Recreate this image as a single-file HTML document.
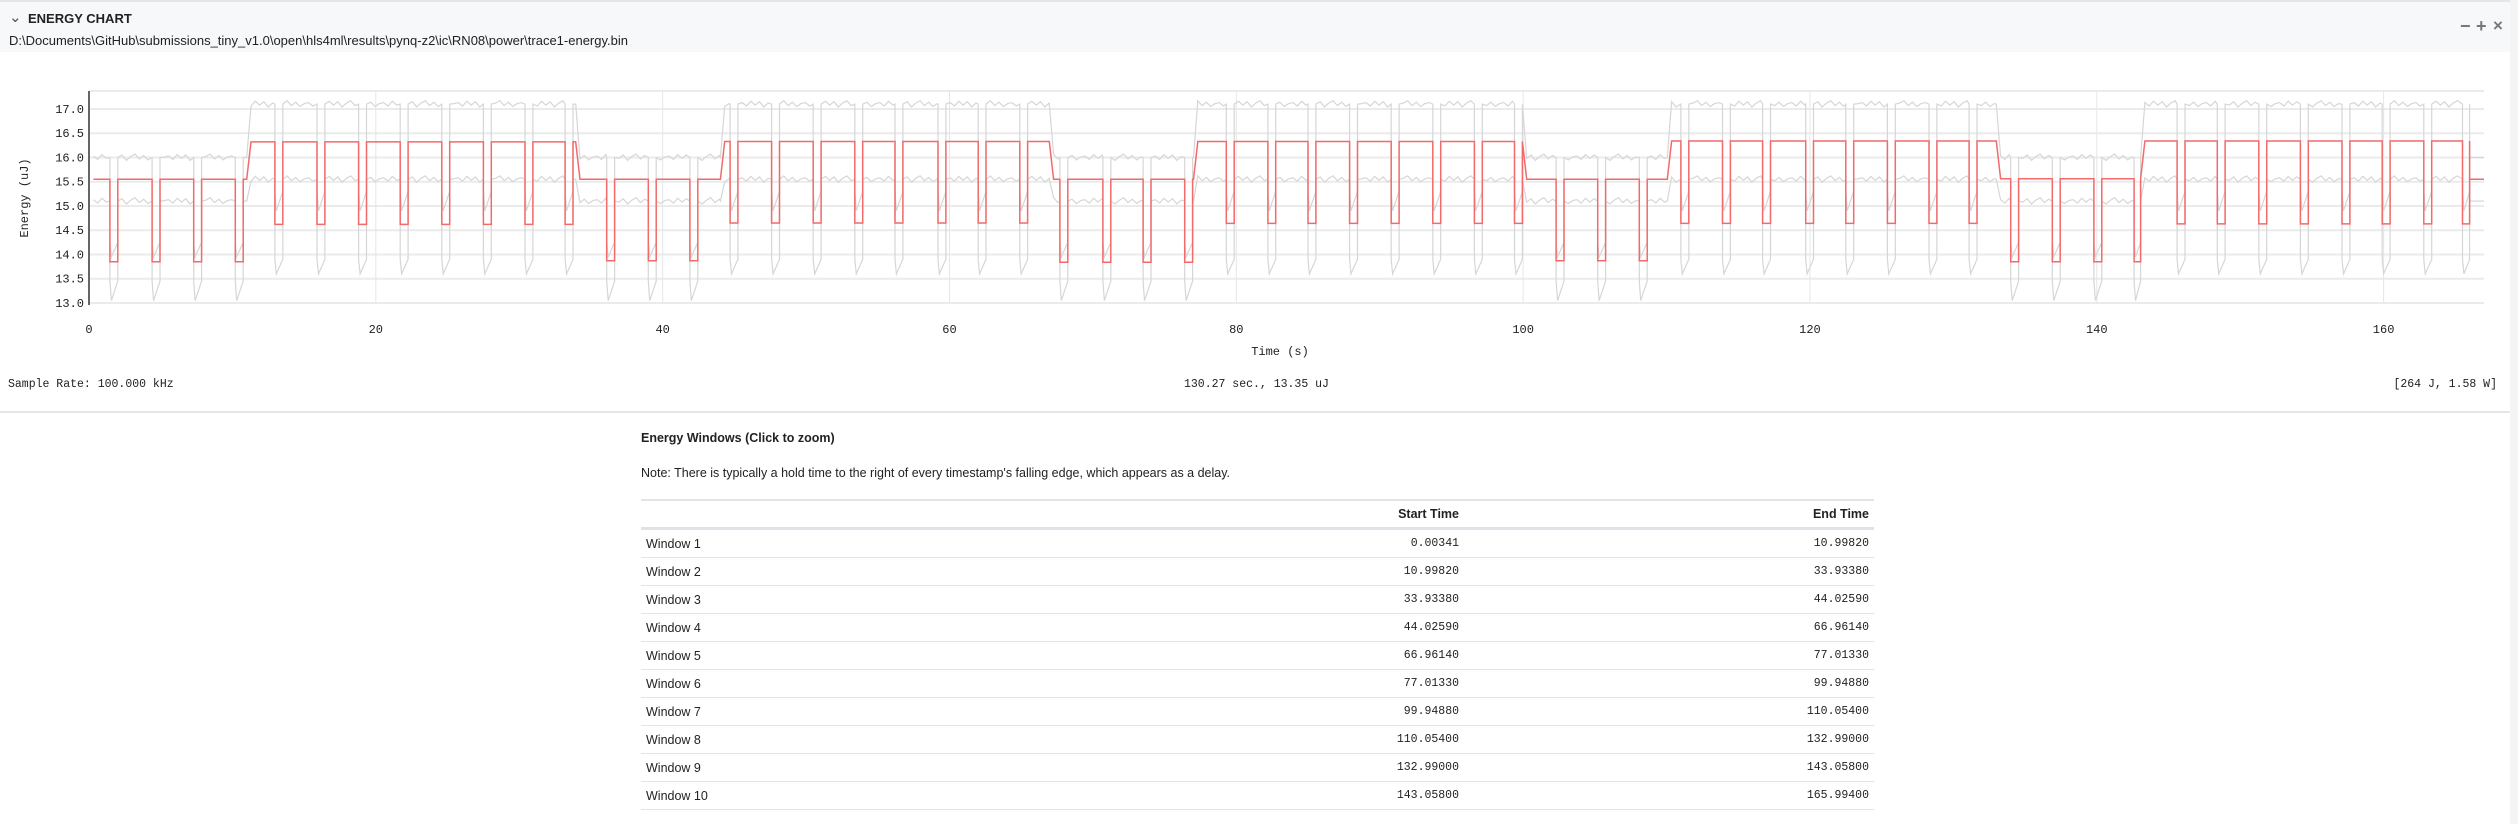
<!DOCTYPE html>
<html><head><meta charset="utf-8">
<style>
body{margin:0;width:2518px;height:824px;background:#f3f4f6;font-family:"Liberation Sans",sans-serif;overflow:hidden;position:relative}
#panel{position:absolute;left:0;top:0;width:2510px;height:824px;background:#fff}
#hdr{position:absolute;left:0;top:0;width:2510px;height:52px;background:#f7f8fa;border-top:2px solid #e4e6ea;box-sizing:border-box}
.t{position:absolute;white-space:nowrap}
.mono{font-family:"Liberation Mono",monospace}
#tbl{position:absolute;left:641px;top:499px;width:1233px;border-collapse:collapse;font-size:12.5px;color:#222}
#tbl th{height:26px;font-weight:bold;text-align:right;padding:0 5px;border-top:2px solid #e2e4e8;border-bottom:3px solid #dfe2e6}
#tbl td{height:27px;border-bottom:1px solid #e2e4e8;padding:0 5px}
#tbl td.n{text-align:right;font-family:"Liberation Mono",monospace;font-size:11.5px}
</style></head><body>
<div id="panel">
<div id="hdr">
 <div class="t" style="left:9px;top:6px;font-size:15px;color:#555">&#8964;</div>
 <div class="t" style="left:28px;top:9px;font-size:13px;font-weight:bold;color:#222">ENERGY CHART</div>
 <div class="t" style="left:9px;top:31px;font-size:13px;color:#222">D:\Documents\GitHub\submissions_tiny_v1.0\open\hls4ml\results\pynq-z2\ic\RN08\power\trace1-energy.bin</div>
 <div class="t" style="left:2460px;top:14px;font-size:18px;font-weight:bold;color:#777">&#8722;</div>
 <div class="t" style="left:2476px;top:14px;font-size:18px;font-weight:bold;color:#777">+</div>
 <div class="t" style="left:2493px;top:14px;font-size:17px;font-weight:bold;color:#777">&#215;</div>
</div>
<svg id="chart" width="2510" height="400" style="position:absolute;left:0;top:0"></svg>
<div class="t mono" style="left:8px;top:378px;font-size:11.5px;color:#222">Sample Rate: 100.000 kHz</div>
<div class="t mono" style="left:1184px;top:378px;font-size:11.5px;color:#222">130.27 sec., 13.35 uJ</div>
<div class="t mono" style="right:13px;top:378px;font-size:11.5px;color:#222">[264 J, 1.58 W]</div>
<div style="position:absolute;left:0;top:411px;width:2510px;height:2px;background:#e4e6ea"></div>
<div class="t" style="left:641px;top:431px;font-size:12.5px;font-weight:bold;color:#222">Energy Windows (Click to zoom)</div>
<div class="t" style="left:641px;top:466px;font-size:12.5px;color:#222">Note: There is typically a hold time to the right of every timestamp's falling edge, which appears as a delay.</div>
<table id="tbl">
<thead><tr><th style="text-align:left"></th><th style="width:300px">Start Time</th><th style="width:400px">End Time</th></tr></thead>
<tbody id="tb"></tbody></table>
</div>
<script>
const winStart=[0.00341,10.99820,33.93380,44.02590,66.96140,77.01330,99.94880,110.05400,132.99000,143.05800];
const winEnd=[10.99820,33.93380,44.02590,66.96140,77.01330,99.94880,110.05400,132.99000,143.05800,165.99400];
const winHigh=[15.55,16.32,15.55,16.33,15.55,16.33,15.55,16.34,15.56,16.34];
const winDip=[13.85,14.62,13.87,14.65,13.84,14.64,13.87,14.64,13.85,14.63];
const upHigh=[16.0,17.1,16.0,17.1,16.0,17.1,16.0,17.1,16.0,17.1];
const upDip=[14.25,13.9,14.25,13.9,14.25,13.9,14.25,13.9,14.25,13.9];
const loHigh=[15.1,15.55,15.1,15.55,15.1,15.55,15.1,15.55,15.1,15.55];
const loDip=[13.45,15.3,13.45,15.3,13.45,15.3,13.45,15.3,13.45,15.3];
const dipTimes=[[1.46,4.4,7.3,10.2],[12.96,15.9,18.8,21.7,24.6,27.5,30.4,33.2],[36.1,39.0,41.9],[44.7,47.6,50.5,53.4,56.2,59.2,62.0,64.9],[67.7,70.7,73.5,76.4],[79.3,82.2,85.0,87.9,90.8,93.7,96.6,99.4],[102.3,105.2,108.1],[111.0,113.9,116.7,119.7,122.5,125.4,128.3,131.1],[134.0,136.9,139.8,142.6],[145.6,148.4,151.3,154.2,157.1,159.9,162.8,165.5]];
const tailLevel=[15.55,16.0,15.1];
const dipWidth=0.55;
const ripple=[0.03,-0.04,0.06,-0.02,0.05,-0.06,0.02,0.07,-0.03,0.04,-0.05,0.01];
const xTicks=[0,20,40,60,80,100,120,140,160];
const yTicks=[13.0,13.5,14.0,14.5,15.0,15.5,16.0,16.5,17.0];
const X0=89,X1=2484,Y0=303,Y1=91,XMAX=167,YMIN=13.0,YMAX=17.37;
const sx=v=>X0+(v/XMAX)*(X1-X0);
const sy=v=>Y0-(v-YMIN)/(YMAX-YMIN)*(Y0-Y1);
const svg=document.getElementById('chart');const NS='http://www.w3.org/2000/svg';
function mk(tag,attrs,parent){const e=document.createElementNS(NS,tag);for(const k in attrs)e.setAttribute(k,attrs[k]);(parent||svg).appendChild(e);return e;}
mk('rect',{x:X0,y:Y1,width:X1-X0,height:Y0-Y1+2,fill:'#fff'});
yTicks.forEach(v=>{const l=mk('line',{x1:X0,x2:X1,y1:sy(v),y2:sy(v),stroke:'#ebebeb','stroke-width':2});


const t=mk('text',{x:84,y:sy(v)+4,'text-anchor':'end','font-family':'Liberation Mono, monospace','font-size':12,fill:'#222'});t.textContent=v.toFixed(1);

});
mk('line',{x1:X0,x2:X1,y1:Y1,y2:Y1,stroke:'#ebebeb','stroke-width':2});
xTicks.forEach(v=>{if(v>0){const l=mk('line',{x1:sx(v),x2:sx(v),y1:Y1,y2:Y0,stroke:'#e6e6e6','stroke-width':1});

}
const t=mk('text',{x:sx(v),y:333,'text-anchor':'middle','font-family':'Liberation Mono, monospace','font-size':12,fill:'#222'});t.textContent=v;

});
function series(high,dip,tail,noise,extra){const pts=[];let k=0;
 for(let i=0;i<winStart.length;i++){const a=winStart[i],b=winEnd[i],h=high[i],d=dip[i];
  let t0=a;dipTimes[i].forEach(t=>{for(let s=t0+0.3;s<t-0.05;s+=0.3){pts.push([s,h+(noise?ripple[k++%ripple.length]:0)]);}
   const te=Math.min(t+dipWidth,b);
   pts.push([t,h]);pts.push([t,d]);if(extra)pts.push([t+0.1,d-extra]);pts.push([te,d]);pts.push([te,h]);t0=te;});
  for(let s=t0+0.3;s<b;s+=0.3)pts.push([s,h+(noise?ripple[k++%ripple.length]:0)]);pts.push([b,h]);}
 pts.push([winEnd[winEnd.length-1],tail]);pts.push([XMAX,tail]);
 return pts.map(p=>sx(Math.min(p[0],XMAX)).toFixed(1)+','+sy(p[1]).toFixed(1)).join(' ');}
const up=mk('polyline',{points:series(upHigh,upDip,tailLevel[1],true,0.3),fill:'none',stroke:'#d6d6d6','stroke-width':1.2});


const lo=mk('polyline',{points:series(loHigh,loDip,tailLevel[2],true,0.4),fill:'none',stroke:'#d6d6d6','stroke-width':1.2});


const red=mk('polyline',{points:series(winHigh,winDip,tailLevel[0],false,0),fill:'none',stroke:'#f26a6a','stroke-width':1.5});


const ax=mk('line',{x1:X0,x2:X0,y1:Y1,y2:Y0+2,stroke:'#666','stroke-width':2});


const yt=mk('text',{x:0,y:0,transform:'translate(28,198) rotate(-90)','text-anchor':'middle','font-family':'Liberation Mono, monospace','font-size':12,fill:'#222'});yt.textContent='Energy (uJ)';


const xt=mk('text',{x:1280,y:355,'text-anchor':'middle','font-family':'Liberation Mono, monospace','font-size':12,fill:'#222'});xt.textContent='Time (s)';


const tb=document.getElementById('tb');
winStart.forEach((s,i)=>{const tr=document.createElement('tr');
 
 
 tr.innerHTML='<td>Window '+(i+1)+'</td><td class="n">'+s.toFixed(5)+'</td><td class="n">'+winEnd[i].toFixed(5)+'</td>';tb.appendChild(tr);});
</script>
</body></html>
